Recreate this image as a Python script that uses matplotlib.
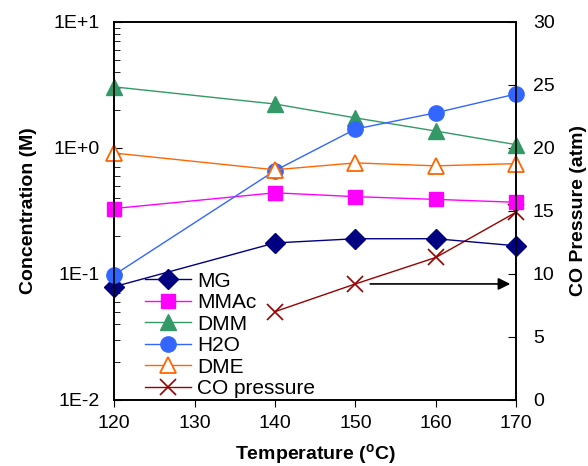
import numpy as np
import matplotlib
matplotlib.use('Agg')
import matplotlib.pyplot as plt
from matplotlib.ticker import FixedLocator, FuncFormatter, LogLocator, NullFormatter

plt.rcParams['font.family'] = ['Liberation Sans', 'DejaVu Sans']

# data
temp = [120, 140, 150, 160, 170]
mg = [0.079, 0.176, 0.19, 0.19, 0.167]
mmac = [0.33, 0.44, 0.41, 0.39, 0.37]
dmm = [3.05, 2.23, 1.73, 1.36, 1.06]
h2o = [0.098, 0.66, 1.41, 1.9, 2.68]
dme = [0.91, 0.67, 0.76, 0.72, 0.75]
co_temp = [140, 150, 160, 170]
co_p = [7.0, 9.2, 11.3, 14.9]

fig = plt.figure(figsize=(5.88, 4.66), dpi=100)
ax = fig.add_axes([0.194, 0.142, 0.684, 0.811])
ax2 = ax.twinx()

lw = 1.0
h1, = ax.plot(temp, mg, color='#000080', marker='D', ms=10, lw=lw, clip_on=False, label='MG')
h2, = ax.plot(temp, mmac, color='#FF00FF', marker='s', ms=10, lw=lw, clip_on=False, label='MMAc')
h3, = ax.plot(temp, dmm, color='#339966', marker='^', ms=12, lw=lw, clip_on=False, label='DMM')
h4, = ax.plot(temp, h2o, color='#3366FF', marker='o', ms=11, lw=lw, clip_on=False, label='H2O')
h5, = ax.plot(temp, dme, color='#FF6600', marker='^', ms=12, mfc='white', mew=1.3, lw=lw,
              clip_on=False, label='DME')
h6, = ax2.plot(co_temp, co_p, color='#990000', marker='x', ms=12, mew=1.2, lw=lw,
               clip_on=False, label='CO pressure')

# put the concentration lines above the pressure axis
ax.set_zorder(ax2.get_zorder() + 1)
ax.patch.set_visible(False)

ax.set_yscale('log')
ax.set_ylim(1e-2, 1e1)
ax.set_xlim(120, 170)
ax.set_xticks([120, 130, 140, 150, 160, 170])
ax.yaxis.set_major_locator(FixedLocator([1e-2, 1e-1, 1e0, 1e1]))
ax.yaxis.set_major_formatter(FuncFormatter(lambda v, p: '1E%+d' % round(np.log10(v))))
ax.yaxis.set_minor_locator(LogLocator(base=10, subs=np.arange(2, 10)))
ax.yaxis.set_minor_formatter(NullFormatter())
ax.tick_params(axis='y', which='major', direction='in', length=6, labelsize=14, pad=10)
ax.tick_params(axis='y', which='minor', direction='in', length=4)
ax.tick_params(axis='x', direction='out', length=5, labelsize=14, pad=6)

ax2.set_ylim(0, 30)
ax2.set_yticks([0, 5, 10, 15, 20, 25, 30])
ax2.tick_params(axis='y', direction='in', length=6, labelsize=14, pad=12)

for a in (ax, ax2):
    for s in a.spines.values():
        s.set_linewidth(1.2)

ax.set_xlabel('Temperature ($\\mathregular{^o}$C)', fontsize=14, fontweight='bold', labelpad=7)
ax.set_ylabel('Concentration (M)', fontsize=14, fontweight='bold', labelpad=12)
ax2.set_ylabel('CO Pressure (atm)', fontsize=14, fontweight='bold', labelpad=11)

# arrow pointing to the right axis
ax2.annotate('', xy=(169.6, 9.2), xytext=(151.5, 9.2),
             arrowprops=dict(arrowstyle='-|>', color='black', lw=1.2, mutation_scale=18))

ax.legend(handles=[h1, h2, h3, h4, h5, h6], loc='upper left', bbox_to_anchor=(0.04, 0.378),
          frameon=False, fontsize=15, labelspacing=0.12, handlelength=2.2, handletextpad=0.3,
          borderpad=0.2)

fig.savefig('out.png', dpi=100)
